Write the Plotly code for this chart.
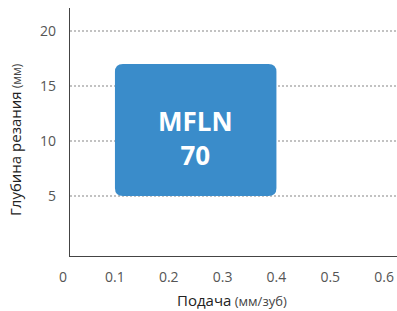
import plotly.graph_objects as go

# Data
feed_range = [0.1, 0.4]        # Подача (мм/зуб)
depth_range = [5, 17]          # Глубина резания (мм)
label = "MFLN<br>70"
x_ticks = [0.1, 0.2, 0.3, 0.4, 0.5, 0.6]
x_tick_labels = ["0.1", "0.2", "0.3", "0.4", "0.5", "0.6"]
y_ticks = [5, 10, 15, 20]
y_tick_labels = ["5", "10", "15", "20"]

FONT = "Open Sans, Segoe UI, sans-serif"
x_lo, x_hi = 0.0165, 0.624
y_lo, y_hi = -0.45, 22.1

fig = go.Figure()
fig.add_trace(go.Scatter(x=[None], y=[None], showlegend=False, hoverinfo="skip"))

# rounded rectangle path in data coords
x0, x1 = feed_range
y0, y1 = depth_range
plot_w_px = 397 - 70
plot_h_px = 256 - 8
r_px = 8
rx = r_px * (x_hi - x_lo) / plot_w_px
ry = r_px * (y_hi - y_lo) / plot_h_px
path = (f"M {x0+rx},{y0} L {x1-rx},{y0} Q {x1},{y0} {x1},{y0+ry} "
        f"L {x1},{y1-ry} Q {x1},{y1} {x1-rx},{y1} L {x0+rx},{y1} "
        f"Q {x0},{y1} {x0},{y1-ry} L {x0},{y0+ry} Q {x0},{y0} {x0+rx},{y0} Z")
fig.add_shape(type="path", path=path, xref="x", yref="y",
              fillcolor="#3a8cca", line=dict(width=0), layer="above")

fig.add_annotation(x=(x0 + x1) / 2, y=(y0 + y1) / 2, xref="x", yref="y",
                   text="<b>" + label + "</b>", showarrow=False, yshift=-8,
                   font=dict(family=FONT, size=26, color="white"))

# "0" label at origin
fig.add_annotation(x=0, y=0, xref="paper", yref="paper", text="0",
                   showarrow=False, xanchor="center", yanchor="top",
                   xshift=-7, yshift=-9,
                   font=dict(family=FONT, size=14, color="#555555"))

# axis titles
fig.add_annotation(x=0.5, y=0, xref="paper", yref="paper",
                   text="<span style='font-size:15px;color:#222'>Подача</span>"
                        "<span style='font-size:13px;color:#444'> (мм/зуб)</span>",
                   showarrow=False, xanchor="center", yanchor="middle",
                   xshift=-2, yshift=-44, font=dict(family=FONT))
fig.add_annotation(x=0, y=0.5, xref="paper", yref="paper",
                   text="<span style='font-size:15px;color:#222'>Глубина резания</span>"
                        "<span style='font-size:12px;color:#444'> (мм)</span>",
                   showarrow=False, textangle=-90, xanchor="center", yanchor="middle",
                   xshift=-55, yshift=-8, font=dict(family=FONT))

fig.update_xaxes(range=[x_lo, x_hi], tickvals=x_ticks, ticktext=x_tick_labels,
                 showgrid=False, zeroline=False, showline=True, linecolor="#444444",
                 linewidth=1.2, ticks="", ticklabelstandoff=8,
                 tickfont=dict(family=FONT, size=14, color="#555555"))
fig.update_yaxes(range=[y_lo, y_hi], tickvals=y_ticks, ticktext=y_tick_labels,
                 showgrid=True, gridcolor="#c2c2c2", griddash="2px,2px", gridwidth=2,
                 zeroline=False, showline=True, linecolor="#444444", linewidth=1.2,
                 ticks="", ticklabelstandoff=10,
                 tickfont=dict(family=FONT, size=14, color="#555555"))

fig.update_layout(width=397, height=311, margin=dict(l=70, r=0, t=8, b=55),
                  paper_bgcolor="white", plot_bgcolor="white", showlegend=False)

# remove the default page margin so the figure fills the 397x311 window exactly
fig.write_html("out.html", config={"displayModeBar": False},
               post_script="document.body.style.margin='0';"
                           "document.body.style.overflow='hidden';")
